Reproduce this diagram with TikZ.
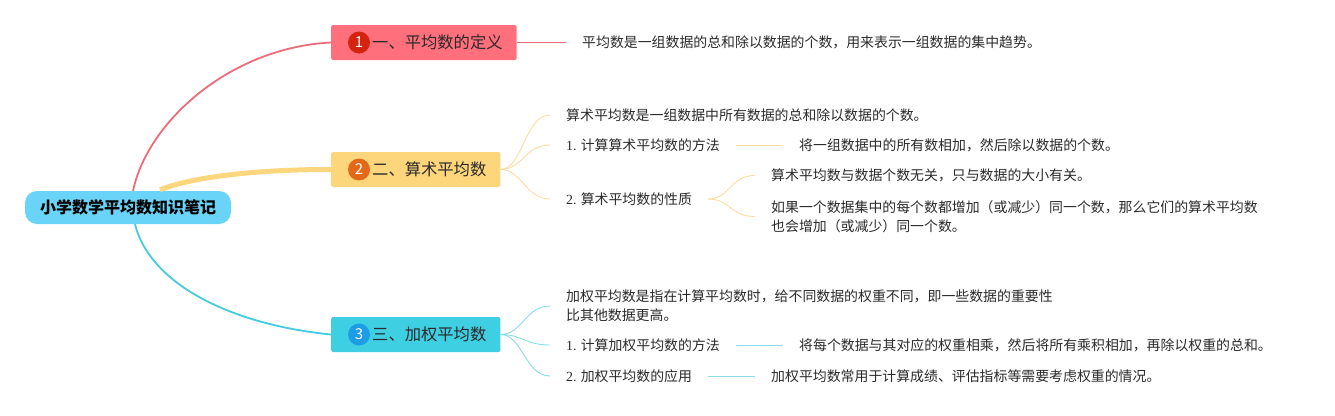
\documentclass[tikz,border=0pt]{standalone}
\usepackage{fontspec}
\setmainfont{Noto Sans CJK SC}
\newfontfamily\lat{Liberation Serif}
\definecolor{rootc}{HTML}{6AD4F8}
\definecolor{redbox}{HTML}{FF6F7C}
\definecolor{redcir}{HTML}{D4230F}
\definecolor{redline}{HTML}{EC6C79}
\definecolor{yelbox}{HTML}{FDD67B}
\definecolor{yelcir}{HTML}{E4681A}
\definecolor{yelline}{HTML}{FCD67D}
\definecolor{yelthin}{HTML}{F8DDA2}
\definecolor{cyabox}{HTML}{3ECFE3}
\definecolor{cyacir}{HTML}{1C9DE6}
\definecolor{cyaline}{HTML}{45CBE0}
\definecolor{cyathin}{HTML}{8ADCEB}
\definecolor{txt}{HTML}{2A2A2A}
\begin{document}
\begin{tikzpicture}[x=1pt,y=-1pt,
  font=\fontsize{13.9}{19}\selectfont,
  leaf/.style={inner xsep=16pt, inner ysep=2pt, anchor=west, align=left, text=txt},
  mainbox/.style={rounded corners=2pt, minimum height=35pt, inner xsep=14pt, anchor=west,
    font=\fontsize{16.3}{18}\selectfont, text=txt},
  numc/.style={circle, inner sep=0pt, minimum size=22pt, text=white, font=\fontsize{15}{15}\selectfont},
  ycurve/.style={draw=yelthin, line width=0.9pt},
  ccurve/.style={draw=cyathin, line width=0.9pt}]
\useasboundingbox (0,0) rectangle (1335,415);

% root
\node[fill=rootc, rounded corners=12pt, minimum height=33pt, minimum width=206pt, inner xsep=15pt,
  font=\bfseries\fontsize{16}{18}\selectfont, text=black] (root) at (128,207.5) {小学数学平均数知识笔记};

% main topics
\node[mainbox, fill=redbox, minimum width=185pt] (n1) at (331,42.5) {\hspace{27pt}一、平均数的定义};
\node[numc, fill=redcir] (k1) at ([xshift=28pt]n1.west) {1};
\node[mainbox, fill=yelbox, minimum width=168pt] (n2) at (331,169.5) {\hspace{27pt}二、算术平均数};
\node[numc, fill=yelcir] (k2) at ([xshift=28pt]n2.west) {2};
\node[mainbox, fill=cyabox, minimum width=168pt] (n3) at (331,334.5) {\hspace{27pt}三、加权平均数};
\node[numc, fill=cyacir] (k3) at ([xshift=28pt]n3.west) {3};

% root connectors
\draw[redline, line width=1.8pt] ([xshift=5pt]root.north) .. controls +(15,-70) and +(-100,5) .. (n1.west);
\draw[yelline, line width=5pt] ([xshift=32pt,yshift=1pt]root.north) .. controls +(30,-12) and +(-80,0) .. (n2.west);
\draw[cyaline, line width=1.8pt] ([xshift=7pt]root.south) .. controls +(15,60) and +(-100,-10) .. (n3.west);

% topic 1
\node[leaf] (l1) at (566,42.5) {平均数是一组数据的总和除以数据的个数，用来表示一组数据的集中趋势。};
\draw[redline, line width=0.8pt] (n1.east) -- (l1.west);

% topic 2
\node[leaf] (a0) at (550,115) {算术平均数是一组数据中所有数据的总和除以数据的个数。};
\node[leaf] (a1) at (550,145) {{\lat 1.} 计算算术平均数的方法};
\node[leaf] (a2) at (550,199) {{\lat 2.} 算术平均数的性质};
\draw[ycurve] (n2.east) .. controls +(22,0) and +(-25,0) .. (a0.west);
\draw[ycurve] (n2.east) .. controls +(22,0) and +(-25,0) .. (a1.west);
\draw[ycurve] (n2.east) .. controls +(22,0) and +(-25,0) .. (a2.west);
\node[leaf] (a1b) at (783,145) {将一组数据中的所有数相加，然后除以数据的个数。};
\draw[ycurve] (a1.east) -- (a1b.west);
\node[leaf] (a2a) at (755,175.5) {算术平均数与数据个数无关，只与数据的大小有关。};
\node[leaf] (a2b) at (755,216.5) {如果一个数据集中的每个数都增加（或减少）同一个数，那么它们的算术平均数\\也会增加（或减少）同一个数。};
\draw[ycurve] (a2.east) .. controls +(22,0) and +(-25,0) .. (a2a.west);
\draw[ycurve] (a2.east) .. controls +(22,0) and +(-25,0) .. (a2b.west);

% topic 3
\node[leaf] (b0) at (550,306) {加权平均数是指在计算平均数时，给不同数据的权重不同，即一些数据的重要性\\比其他数据更高。};
\node[leaf] (b1) at (550,345) {{\lat 1.} 计算加权平均数的方法};
\node[leaf] (b2) at (550,376) {{\lat 2.} 加权平均数的应用};
\draw[ccurve] (n3.east) .. controls +(22,0) and +(-25,0) .. (b0.west);
\draw[ccurve] (n3.east) .. controls +(22,0) and +(-25,0) .. (b1.west);
\draw[ccurve] (n3.east) .. controls +(22,0) and +(-25,0) .. (b2.west);
\node[leaf] (b1b) at (783,345) {将每个数据与其对应的权重相乘，然后将所有乘积相加，再除以权重的总和。};
\draw[ccurve] (b1.east) -- (b1b.west);
\node[leaf] (b2b) at (755,376) {加权平均数常用于计算成绩、评估指标等需要考虑权重的情况。};
\draw[ccurve] (b2.east) -- (b2b.west);
\end{tikzpicture}
\end{document}
